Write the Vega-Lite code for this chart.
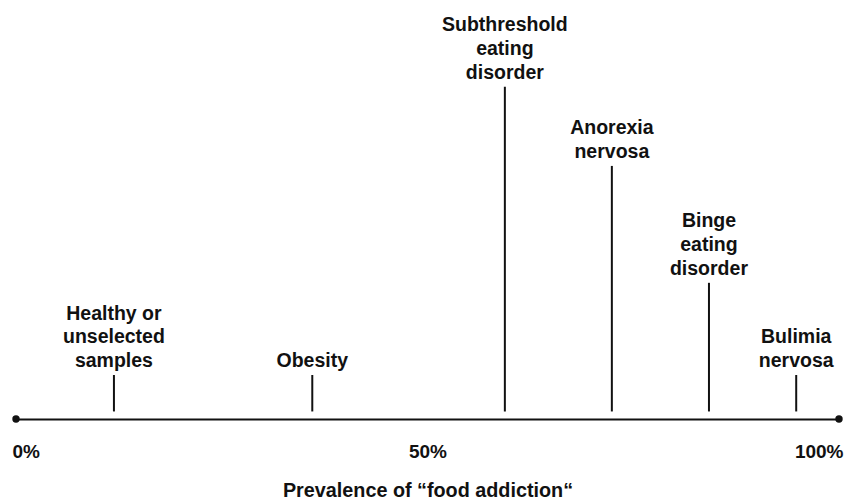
{
  "$schema": "https://vega.github.io/schema/vega-lite/v6.json",
  "autosize": "none",
  "width": 823,
  "height": 419,
  "padding": {"left": 16, "top": 0, "right": 5, "bottom": 81},
  "config": {"view": {"stroke": null}, "font": "Liberation Sans"},
  "datasets": {
    "groups": [
      {"group": "Healthy or\nunselected\nsamples", "prevalence": 11.9, "height": 10.5},
      {"group": "Obesity", "prevalence": 36.0, "height": 10.5},
      {"group": "Subthreshold\neating\ndisorder", "prevalence": 59.4, "height": 79.3},
      {"group": "Anorexia\nnervosa", "prevalence": 72.4, "height": 60.4},
      {"group": "Binge\neating\ndisorder", "prevalence": 84.2, "height": 32.5},
      {"group": "Bulimia\nnervosa", "prevalence": 94.8, "height": 10.5}
    ],
    "ends": [
      {"prevalence": 0, "height": 0},
      {"prevalence": 100, "height": 0}
    ]
  },
  "layer": [
    {
      "data": {"name": "groups"},
      "mark": {"type": "rule", "stroke": "#111111", "strokeWidth": 2},
      "encoding": {
        "x": {
          "field": "prevalence", "type": "quantitative",
          "scale": {"domain": [0, 100], "nice": false},
          "axis": {
            "values": [0, 50, 100],
            "labelExpr": "datum.value + '%'",
            "labelFlush": true,
            "labelFlushOffset": 4,
            "grid": false,
            "ticks": false,
            "tickSize": 0,
            "domainColor": "#111111",
            "domainWidth": 2,
            "labelFont": "Liberation Sans",
            "labelFontSize": 19,
            "labelFontWeight": "bold",
            "labelColor": "#111111",
            "labelPadding": 23.5,
            "title": "Prevalence of “food addiction“",
            "titleFont": "Liberation Sans",
            "titleFontSize": 19.8,
            "titleFontWeight": "bold",
            "titleColor": "#111111",
            "titlePadding": 19
          }
        },
        "y": {
          "field": "height", "type": "quantitative",
          "scale": {"domain": [0, 100], "nice": false},
          "axis": null
        },
        "y2": {"datum": 1.8}
      }
    },
    {
      "data": {"name": "groups"},
      "transform": [{"filter": "length(split(datum.group, '\\n')) == 1"}],
      "mark": {
        "type": "text", "lineBreak": "\n", "baseline": "bottom", "align": "center",
        "dy": -4, "font": "Liberation Sans", "fontSize": 19.5, "fontWeight": "bold",
        "lineHeight": 23.7, "color": "#111111"
      },
      "encoding": {
        "x": {"field": "prevalence", "type": "quantitative"},
        "y": {"field": "height", "type": "quantitative"},
        "text": {"field": "group", "type": "nominal"}
      }
    },
    {
      "data": {"name": "groups"},
      "transform": [{"filter": "length(split(datum.group, '\\n')) == 2"}],
      "mark": {
        "type": "text", "lineBreak": "\n", "baseline": "bottom", "align": "center",
        "dy": -27.7, "font": "Liberation Sans", "fontSize": 19.5, "fontWeight": "bold",
        "lineHeight": 23.7, "color": "#111111"
      },
      "encoding": {
        "x": {"field": "prevalence", "type": "quantitative"},
        "y": {"field": "height", "type": "quantitative"},
        "text": {"field": "group", "type": "nominal"}
      }
    },
    {
      "data": {"name": "groups"},
      "transform": [{"filter": "length(split(datum.group, '\\n')) == 3"}],
      "mark": {
        "type": "text", "lineBreak": "\n", "baseline": "bottom", "align": "center",
        "dy": -51.4, "font": "Liberation Sans", "fontSize": 19.5, "fontWeight": "bold",
        "lineHeight": 23.7, "color": "#111111"
      },
      "encoding": {
        "x": {"field": "prevalence", "type": "quantitative"},
        "y": {"field": "height", "type": "quantitative"},
        "text": {"field": "group", "type": "nominal"}
      }
    },
    {
      "data": {"name": "ends"},
      "mark": {"type": "point", "filled": true, "size": 55, "color": "#111111", "opacity": 1},
      "encoding": {
        "x": {"field": "prevalence", "type": "quantitative"},
        "y": {"field": "height", "type": "quantitative"}
      }
    }
  ]
}
